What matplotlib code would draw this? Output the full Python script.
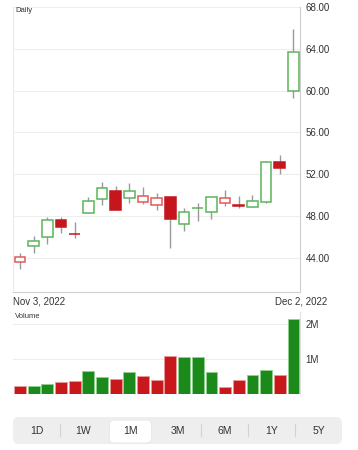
import matplotlib
matplotlib.use("Agg")
import matplotlib.pyplot as plt
from matplotlib.patches import FancyBboxPatch
from matplotlib.ticker import FuncFormatter
import pandas as pd

plt.rcParams['font.family'] = ['Liberation Sans', 'DejaVu Sans']

# Daily prices, Nov 3 - Dec 2, 2022
dates = ['2022-11-03', '2022-11-04', '2022-11-07', '2022-11-08', '2022-11-09',
         '2022-11-10', '2022-11-11', '2022-11-14', '2022-11-15', '2022-11-16',
         '2022-11-17', '2022-11-18', '2022-11-21', '2022-11-22', '2022-11-23',
         '2022-11-25', '2022-11-28', '2022-11-29', '2022-11-30', '2022-12-01',
         '2022-12-02']
opens = [43.57, 45.16, 46.02, 47.62, 46.32, 48.26, 49.60, 50.42, 49.69, 49.31, 49.05,
         49.79, 47.23, 48.74, 48.41, 49.22, 49.05, 48.89, 49.37, 53.20, 59.99]
highs = [44.43, 46.09, 47.93, 47.93, 47.40, 49.85, 51.22, 50.87, 51.13, 50.80, 50.17,
         49.85, 48.74, 49.22, 49.79, 50.49, 49.94, 50.01, 53.29, 53.84, 65.87]
lows = [42.96, 44.49, 45.32, 46.40, 45.87, 48.26, 49.05, 48.57, 49.27, 49.12, 48.57,
        44.97, 46.56, 47.55, 47.68, 48.96, 48.74, 48.89, 49.27, 52.02, 59.32]
closes = [44.10, 45.64, 47.62, 46.92, 46.25, 49.47, 50.65, 48.57, 50.36, 49.94, 49.69,
          47.68, 48.35, 48.74, 49.79, 49.75, 48.96, 49.47, 53.20, 52.62, 63.72]
prev_close = 44.60  # close of the day before the first candle
volumes = [0.25, 0.23, 0.29, 0.36, 0.39, 0.67, 0.50, 0.43, 0.65, 0.52, 0.41,
           1.09, 1.07, 1.06, 0.64, 0.20, 0.40, 0.56, 0.69, 0.55, 2.16]  # millions

price_ticks = [44, 48, 52, 56, 60, 64, 68]
volume_ticks = [1, 2]
ranges = ['1D', '1W', '1M', '3M', '6M', '1Y', '5Y']
selected = '1M'

df = pd.DataFrame({'Date': pd.to_datetime(dates), 'Open': opens, 'High': highs,
                   'Low': lows, 'Close': closes, 'Volume': volumes})
df['Prev'] = df['Close'].shift(1).fillna(prev_close)
df['Up'] = df['Close'] >= df['Prev']
x = list(range(len(df)))

W, H = 358, 450
fig = plt.figure(figsize=(W / 100, H / 100), dpi=100)
fig.patch.set_facecolor('white')


def px_axes(left, top, right, bottom):
    return fig.add_axes([left / W, 1 - bottom / H, (right - left) / W, (bottom - top) / H])


GREEN_LINE = '#5ab45a'
RED_LINE = '#e25a5a'
RED_FILL = '#c4161c'
VOL_GREEN = '#1b8a1b'
VOL_RED = '#c8181c'
GRID = '#eeeeee'
AXIS = '#cfcfcf'
TEXT = '#333333'

# ---- price panel ----
ax = px_axes(13, 7, 300, 292)
ax.set_xlim(-0.51, 20.48)
ax.set_ylim(40.72, 68.02)
ax.vlines(x, df['Low'], df['High'], color='#9a9a9a', lw=1, zorder=2)
for i, row in df.iterrows():
    lo = min(row['Open'], row['Close'])
    hgt = abs(row['Close'] - row['Open'])
    hollow = row['Close'] >= row['Open']
    if hollow:
        ec = GREEN_LINE if row['Up'] else RED_LINE
        ax.bar(i, hgt, bottom=lo, width=0.78, facecolor='white', edgecolor=ec,
               linewidth=1.1, zorder=3)
    else:
        ax.bar(i, hgt, bottom=lo, width=0.78, facecolor=RED_FILL, edgecolor=RED_FILL,
               linewidth=1.1, zorder=3)

ax.set_yticks(price_ticks)
ax.yaxis.set_major_formatter(FuncFormatter(lambda v, p: f'{v:.2f}'))
ax.yaxis.tick_right()
ax.tick_params(axis='y', length=0, pad=4, labelsize=7, labelcolor=TEXT)
ax.set_xticks([])
ax.grid(axis='y', color=GRID, lw=0.8, zorder=0)
ax.spines['top'].set_visible(False)
ax.spines['left'].set_color('#ececec')
ax.spines['right'].set_color(AXIS)
ax.spines['bottom'].set_color(AXIS)
for s in ax.spines.values():
    s.set_linewidth(0.8)

fig.text(15 / W, 1 - 10 / H, 'Daily', fontsize=5.5, color=TEXT, va='center', ha='left')
first = df['Date'].iloc[0]
last = df['Date'].iloc[-1]
fig.text(13 / W, 1 - 302 / H, f"{first:%b} {first.day}, {first.year}", fontsize=7,
         color=TEXT, va='center', ha='left')
fig.text(327 / W, 1 - 302 / H, f"{last:%b} {last.day}, {last.year}", fontsize=7,
         color=TEXT, va='center', ha='right')

# ---- volume panel ----
av = px_axes(13, 312, 300, 394.3)
av.set_xlim(-0.51, 20.48)
av.set_ylim(0, 2.35)
vcolors = [VOL_GREEN if u else VOL_RED for u in df['Up']]
vedges = ['#8fd08f' if u else '#e89a9a' for u in df['Up']]
av.bar(x, df['Volume'], width=0.86, color=vcolors, edgecolor=vedges, linewidth=0.6, zorder=3)
av.set_yticks(volume_ticks)
av.yaxis.set_major_formatter(FuncFormatter(lambda v, p: f'{v:.0f}M'))
av.yaxis.tick_right()
av.tick_params(axis='y', length=0, pad=4, labelsize=7, labelcolor=TEXT)
av.set_xticks([])
av.grid(axis='y', color=GRID, lw=0.8, zorder=0)
for side in ['top', 'left', 'bottom']:
    av.spines[side].set_visible(False)
av.spines['right'].set_color('#e0e0e0')
av.spines['right'].set_linewidth(0.8)
fig.text(15 / W, 1 - 316 / H, 'Volume', fontsize=5.5, color=TEXT, va='center', ha='left')

# ---- range selector ----
ab = fig.add_axes([0, 0, 1, 1], zorder=-1)
ab.set_xlim(0, W)
ab.set_ylim(H, 0)
ab.axis('off')
bar_left, bar_right, bar_top, bar_bot = 13, 342, 417, 444
ab.add_patch(FancyBboxPatch((bar_left, bar_top), bar_right - bar_left, bar_bot - bar_top,
                            boxstyle='round,pad=0,rounding_size=6',
                            facecolor='#eeeeef', edgecolor='none'))
seg = (bar_right - bar_left) / len(ranges)
sel = ranges.index(selected)
for i, lab in enumerate(ranges):
    cx = bar_left + seg * (i + 0.5)
    if i == sel:
        ab.add_patch(FancyBboxPatch((cx - 21, 420), 42, 23,
                                    boxstyle='round,pad=0,rounding_size=5',
                                    facecolor='white', edgecolor='#e4e4e4', lw=0.5))
    ab.text(cx, 431, lab, fontsize=7.5, color=TEXT, ha='center', va='center')
    if i > 0 and i != sel and i != sel + 1:
        sx = bar_left + seg * i
        ab.plot([sx, sx], [423.5, 436], color='#d2d2d2', lw=0.8)

fig.savefig('out.png', dpi=100)
